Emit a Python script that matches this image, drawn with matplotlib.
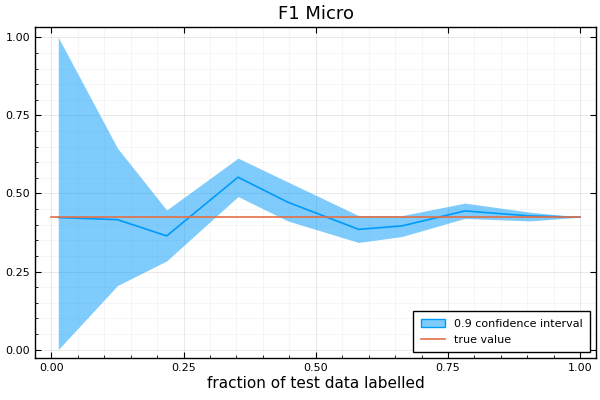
import numpy as np
import matplotlib
matplotlib.use("Agg")
import matplotlib.pyplot as plt
from matplotlib.ticker import MultipleLocator

# values
fraction = [0.013, 0.125, 0.218, 0.353, 0.447, 0.581, 0.663, 0.782, 0.905, 1.0]
mean_f1 = [0.423, 0.416, 0.364, 0.552, 0.472, 0.385, 0.396, 0.444, 0.428, 0.424]
upper_f1 = [1.0, 0.645, 0.447, 0.613, 0.537, 0.429, 0.429, 0.469, 0.440, 0.424]
lower_f1 = [0.0, 0.205, 0.284, 0.490, 0.412, 0.343, 0.362, 0.420, 0.412, 0.424]
true_x = [0.0, 1.0]
true_value = [0.424, 0.424]

blue = "#009AFA"
orange = "#E36F47"

fig = plt.figure(figsize=(6, 4), dpi=100)
ax = fig.add_axes([35 / 600, 1 - 358 / 400, 561 / 600, 331 / 400])

ax.fill_between(fraction, lower_f1, upper_f1, color=blue, alpha=0.5,
                linewidth=0, label="0.9 confidence interval")
ax.plot(fraction, mean_f1, color=blue, linewidth=1.2)
ax.plot(true_x, true_value, color=orange, linewidth=1.2, label="true value")

ax.set_xlim(-0.031, 1.030)
ax.set_ylim(-0.027, 1.033)
ax.xaxis.set_major_locator(MultipleLocator(0.25))
ax.yaxis.set_major_locator(MultipleLocator(0.25))
ax.xaxis.set_minor_locator(MultipleLocator(0.05))
ax.yaxis.set_minor_locator(MultipleLocator(0.05))
ax.xaxis.set_major_formatter(lambda v, p: f"{v:.2f}")
ax.yaxis.set_major_formatter(lambda v, p: f"{v:.2f}")

ax.grid(True, which="major", color="black", alpha=0.1, linewidth=0.6)
ax.grid(True, which="minor", color="black", alpha=0.05, linewidth=0.5)
ax.set_axisbelow(True)
ax.tick_params(which="both", direction="in", labelsize=8, color="black")
ax.tick_params(which="major", length=4, top=True, right=True)
ax.tick_params(which="minor", length=2, top=False, right=False)
for s in ax.spines.values():
    s.set_linewidth(1.0)

ax.set_title("F1 Micro", fontsize=13)
ax.set_xlabel("fraction of test data labelled", fontsize=11, labelpad=2)

leg = ax.legend(loc="lower right", fontsize=8, fancybox=False, framealpha=1,
                edgecolor="black", borderpad=0.7, handlelength=2.2)
leg.get_frame().set_linewidth(1.0)
leg.legend_handles[0].set_edgecolor(blue)
leg.legend_handles[0].set_linewidth(1.0)

fig.savefig("out.png", dpi=100)
